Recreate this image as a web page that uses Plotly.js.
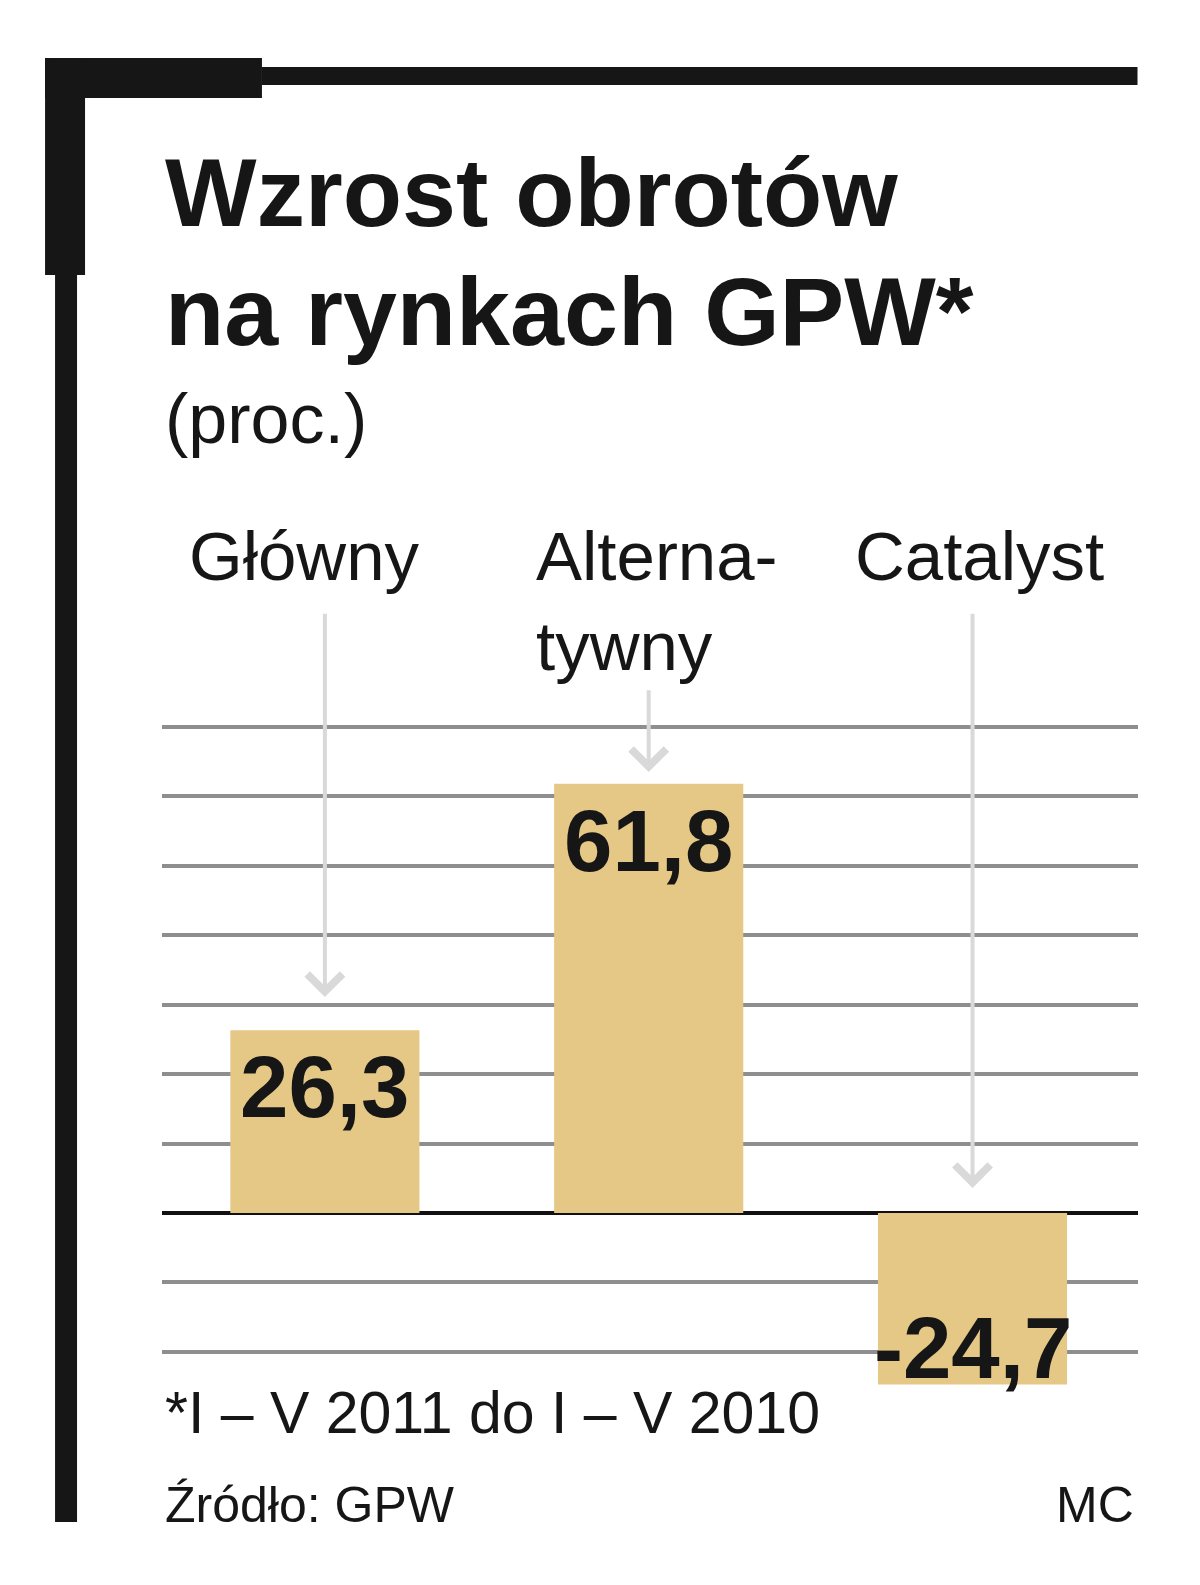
<!DOCTYPE html>
<html>
<head>
<meta charset="utf-8">
<script src="https://cdn.plot.ly/plotly-3.0.1.min.js"></script>
<style>html,body{margin:0;padding:0;background:#fff;}#chart{width:1200px;height:1585px;}</style>
</head>
<body>
<div id="chart"></div>
<script>
// ---- data ----
const categories = ['Główny', 'Alternatywny', 'Catalyst'];
const values = [26.3, 61.8, -24.7];
const categoryLabels = ['Główny', 'Alterna-<br>tywny', 'Catalyst'];
const gridTicks = [-20, -10, 0, 10, 20, 30, 40, 50, 60, 70];
const titleLines = ['Wzrost obrotów', 'na rynkach GPW*'];
const subtitle = '(proc.)';
const footnote = '*I – V 2011 do I – V 2010';
const sourceText = 'Źródło: GPW';
const authorText = 'MC';

// ---- layout helpers (pixel -> paper) ----
const W = 1200, H = 1585;
const PL = 162, PR = 1138.5, PT = 500, PB = 1400;
const xp = px => (px - PL) / (PR - PL);
const yp = py => (PB - py) / (PB - PT);
const ASC = 0.905;

const ink = '#161616';
const fontReg = 'Liberation Sans, Arial, sans-serif';

function textAnn(text, px, baseline, size, family, weight, anchor) {
  return {
    xref: 'paper', yref: 'paper',
    x: xp(px), y: yp(baseline - ASC * size - 1),
    xanchor: anchor || 'left', yanchor: 'top',
    text: text, showarrow: false, align: 'left',
    font: {family: family, size: size, color: ink, weight: weight || 'normal'}
  };
}

const annotations = [];
// title
annotations.push(textAnn(titleLines[0], 163, 225, 97, fontReg, 'bold'));
annotations.push(textAnn(titleLines[1], 163, 344, 97, fontReg, 'bold'));
annotations.push(textAnn(subtitle, 163, 442, 70, fontReg));
// category labels
const labelLeft = [187, 534, 853];
categoryLabels.forEach((t, i) => {
  annotations.push(textAnn(t, labelLeft[i], 579, 69, fontReg));
});
// arrows from labels to bars
const arrowTail = [86.5, 75.5, 86.5];
const arrowGap = [4.8, 1.7, 3.6];
categories.forEach((c, i) => {
  annotations.push({
    xref: 'x', yref: 'y', axref: 'x', ayref: 'y',
    x: c, y: Math.max(values[i], 0) + arrowGap[i],
    ax: c, ay: arrowTail[i],
    text: '', showarrow: true, arrowhead: 4, arrowsize: 1.7, arrowwidth: 4,
    arrowcolor: '#d9d9d9', standoff: 0, startstandoff: 0
  });
});
// value labels
const valueText = values.map(v => v.toFixed(1).replace('.', ','));
categories.forEach((c, i) => {
  const pos = values[i] >= 0;
  annotations.push({
    xref: 'x', yref: 'y', x: c, y: values[i],
    xanchor: 'center', yanchor: pos ? 'top' : 'bottom',
    yshift: pos ? -6 : -13,
    text: valueText[i], showarrow: false,
    font: {family: fontReg, size: 87, color: ink, weight: 'bold'}
  });
});
// footnotes
annotations.push(textAnn(footnote, 163, 1432, 59, fontReg));
annotations.push(textAnn(sourceText, 163, 1521, 50, fontReg));
annotations.push(textAnn(authorText, 1136, 1521, 50, fontReg, 'normal', 'right'));

// frame shapes
function rectPx(x0, y0, x1, y1) {
  return {type: 'rect', xref: 'paper', yref: 'paper', layer: 'above',
    x0: xp(x0), x1: xp(x1), y0: yp(y0), y1: yp(y1),
    fillcolor: ink, line: {width: 0}};
}
const shapes = [
  rectPx(45, 58, 262, 98),
  rectPx(45, 58, 85, 275),
  rectPx(55, 58, 77, 1522),
  rectPx(262, 67, 1138, 85)
];

const pxPerUnit = 69.44 / 10;
const zeroPx = 1213;

const trace = {
  type: 'bar',
  x: categories,
  y: values,
  width: 0.584,
  marker: {color: '#e5c886', line: {width: 0}},
  hoverinfo: 'skip'
};

const layout = {
  width: W, height: H,
  margin: {l: PL, r: W - PR, t: PT, b: H - PB, pad: 0},
  paper_bgcolor: '#ffffff', plot_bgcolor: '#ffffff',
  showlegend: false,
  xaxis: {
    type: 'category', range: [-0.503, 2.511],
    showticklabels: false, showgrid: false, zeroline: false, showline: false, ticks: ''
  },
  yaxis: {
    range: [-(PB - zeroPx) / pxPerUnit, (zeroPx - PT) / pxPerUnit],
    tickmode: 'array', tickvals: gridTicks,
    showticklabels: false, ticks: '',
    showgrid: true, gridcolor: '#8e8e8e', gridwidth: 4,
    zeroline: true, zerolinecolor: '#111111', zerolinewidth: 4,
    showline: false
  },
  shapes: shapes,
  annotations: annotations
};

Plotly.newPlot('chart', [trace], layout, {staticPlot: true, displayModeBar: false});
</script>
</body>
</html>
